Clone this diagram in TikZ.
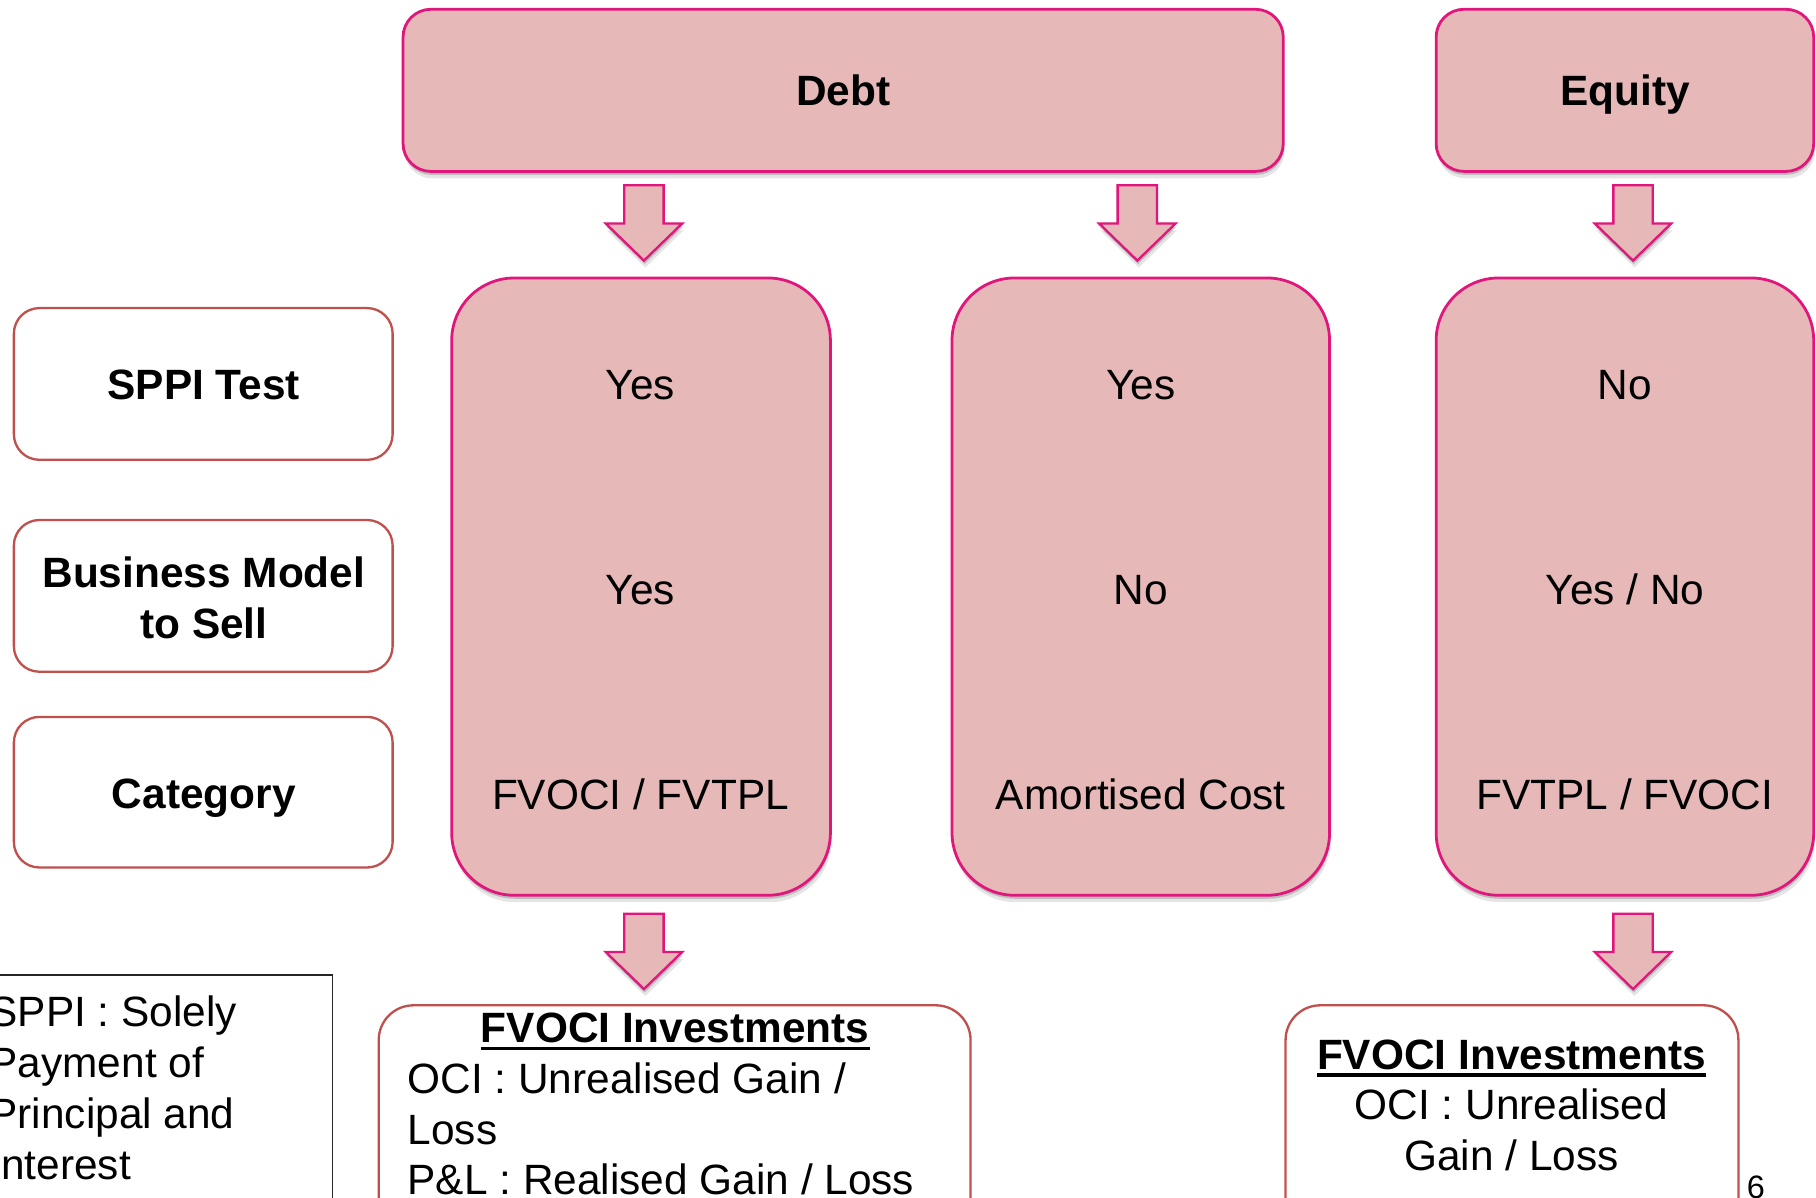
\documentclass[tikz,border=0pt]{standalone}
\usepackage{fontspec}
\setmainfont{Liberation Sans}
\usetikzlibrary{shadows,fit,calc}
\definecolor{pinkfill}{HTML}{E6B8B7}
\definecolor{pinkline}{HTML}{E0167C}
\definecolor{redline}{HTML}{C0504D}
\newcommand\mainsize{\fontsize{18.3pt}{22pt}\selectfont}
\tikzset{
  every node/.style={inner sep=0pt, outer sep=0pt, font=\mainsize},
  softshadow/.style={drop shadow={shadow xshift=0.3pt, shadow yshift=-1.5pt, opacity=0.18, fill=black},
                     drop shadow={shadow xshift=0.6pt, shadow yshift=-3pt, opacity=0.10, fill=black}},
  pinkbox/.style={draw=pinkline, line width=1.2pt, fill=pinkfill, rounded corners=#1, softshadow},
  labelbox/.style={draw=redline, line width=1pt, rounded corners=#1},
  onel/.style={text height=13.1pt, text depth=0pt},
  boldtxt/.style={font=\mainsize\bfseries},
  barrow/.pic={\path[draw=pinkline, line width=1pt, fill=pinkfill, miter limit=10, softshadow]
     (-17,0) -- (17,0) -- (17,33) -- (33,33) -- (0,65) -- (-33,33) -- (-17,33) -- cycle;}
}
\begin{document}
\begin{tikzpicture}[x=0.5pt, y=-0.5pt]
\useasboundingbox (0,0) rectangle (1568,1034);
\clip (0,0) rectangle (1568,1034);

% top boxes
\node[pinkbox=12pt, fit={(348,8) (1108,148)}] (debt) {};
\node[onel, boldtxt] (debtt) at (debt.center) {Debt};
\node[pinkbox=12pt, fit={(1240,8) (1566,148)}] (equity) {};
\node[onel, boldtxt] (equityt) at (equity.center) {Equity};

% arrows from top boxes
\pic at (556,160) {barrow};
\pic at (982,160) {barrow};
\pic at (1410,160) {barrow};

% column boxes
\node[pinkbox=27pt, fit={(390,240) (717,773)}] (col1) {};
\node[pinkbox=27pt, fit={(822,240) (1148,773)}] (col2) {};
\node[pinkbox=27pt, fit={(1240,240) (1566,773)}] (col3) {};

\node[onel] (c1a) at (553,332) {Yes};
\node[onel] (c1b) at (553,509) {Yes};
\node[onel] (c1c) at (553,686) {FVOCI / FVTPL};
\node[onel] (c2a) at (985,332) {Yes};
\node[onel] (c2b) at (985,509) {No};
\node[onel] (c2c) at (985,686) {Amortised Cost};
\node[onel] (c3a) at (1403,332) {No};
\node[onel] (c3b) at (1403,509) {Yes / No};
\node[onel] (c3c) at (1403,686) {FVTPL / FVOCI};

% left label boxes
\node[labelbox=11pt, fit={(12,266) (339,397)}] (sppi) {};
\node[onel, boldtxt] (sppit) at (176,332) {SPPI Test};
\node[labelbox=11pt, fit={(12,449) (339,580)}] (bm) {};
\node[anchor=base, boldtxt] (bmt1) at (176,507) {Business Model};
\node[anchor=base, boldtxt] (bmt2) at (176,551) {to Sell};
\node[labelbox=11pt, fit={(12,619) (339,749)}] (cat) {};
\node[onel, boldtxt] (catt) at (176,685) {Category};

% bottom arrows
\pic at (556,789) {barrow};
\pic at (1410,789) {barrow};

% footnote box
\node[draw=black!85, line width=0.6pt, fit={(-12,842) (287,1070)}] (note) {};
\node[anchor=base west] (n1) at (-9,886) {SPPI : Solely};
\node[anchor=base west] (n2) at (-9,930) {Payment of};
\node[anchor=base west] (n3) at (-9,974) {Principal and};
\node[anchor=base west] (n4) at (-9,1018) {Interest};

% bottom box 1
\node[labelbox=15pt, fit={(327,868) (838,1070)}] (inv1) {};
\node[anchor=base, boldtxt] (inv1t) at (583,900) {FVOCI Investments};
\draw[line width=1.5pt] ([yshift=-2.6pt]inv1t.base west) -- ([yshift=-2.6pt]inv1t.base east);
\node[anchor=base west] (inv1a) at (352,944) {OCI : Unrealised Gain /};
\node[anchor=base west] (inv1b) at (352,988) {Loss};
\node[anchor=base west] (inv1c) at (352,1031) {P\&L : Realised Gain / Loss};

% bottom box 2
\node[labelbox=15pt, fit={(1110,868) (1501,1070)}] (inv2) {};
\node[anchor=base, boldtxt] (inv2t) at (1305,923) {FVOCI Investments};
\draw[line width=1.5pt] ([yshift=-2.6pt]inv2t.base west) -- ([yshift=-2.6pt]inv2t.base east);
\node[anchor=base] (inv2a) at (1305,967) {OCI : Unrealised};
\node[anchor=base] (inv2b) at (1305,1011) {Gain / Loss};

% page number
\node[anchor=base, font=\fontsize{14pt}{16pt}\selectfont] (pg) at (1516,1035) {6};
\end{tikzpicture}
\end{document}
